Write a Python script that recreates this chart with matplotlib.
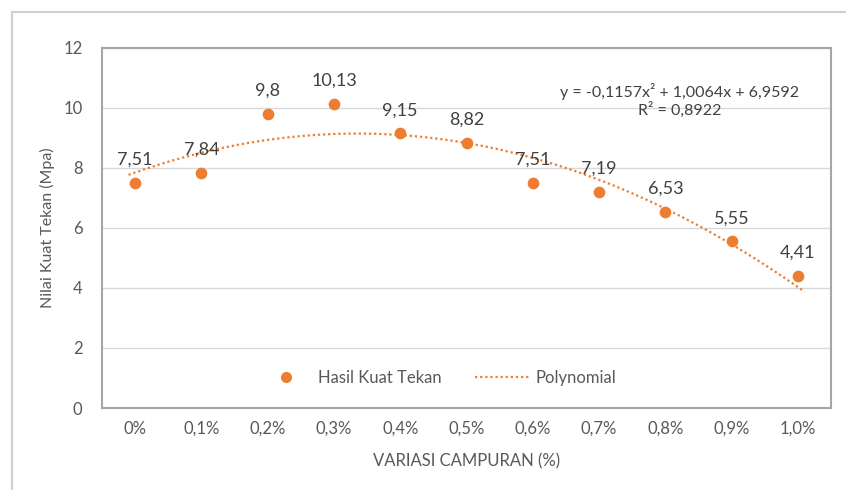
import numpy as np
import matplotlib.pyplot as plt
from matplotlib.lines import Line2D

variasi = ['0%', '0,1%', '0,2%', '0,3%', '0,4%', '0,5%', '0,6%', '0,7%', '0,8%', '0,9%', '1,0%']
kuat_tekan = [7.51, 7.84, 9.8, 10.13, 9.15, 8.82, 7.51, 7.19, 6.53, 5.55, 4.41]
label_nilai = ['7,51', '7,84', '9,8', '10,13', '9,15', '8,82', '7,51', '7,19', '6,53', '5,55', '4,41']
y_ticks = [0, 2, 4, 6, 8, 10, 12]

oranye = '#ED7D31'
abu = '#595959'
plt.rcParams['font.family'] = ['Lato', 'DejaVu Sans']

fig = plt.figure(figsize=(8.46, 4.9), dpi=100)
ax = fig.add_axes([102 / 846, 1 - 408 / 490, (831 - 102) / 846, (408 - 48) / 490])

x = np.arange(len(kuat_tekan))
ax.scatter(x, kuat_tekan, s=55, color=oranye, zorder=3)

# trendline polinom orde 2 (x excel mulai dari 1)
coef = np.polyfit(x + 1, kuat_tekan, 2)
xs = np.linspace(-0.1, 10.1, 200)
ys = np.polyval(coef, xs + 1)
ax.plot(xs, ys, color=oranye, lw=1.6, linestyle=(0, (1, 1.3)), zorder=2)

for xi, yi, lab in zip(x, kuat_tekan, label_nilai):
    ax.annotate(lab, (xi, yi), xytext=(0, 11), textcoords='offset points',
                ha='center', va='bottom', fontsize=13, color='#404040')

ss_res = np.sum((np.array(kuat_tekan) - np.polyval(coef, x + 1)) ** 2)
ss_tot = np.sum((np.array(kuat_tekan) - np.mean(kuat_tekan)) ** 2)
r2 = 1 - ss_res / ss_tot
fmt = lambda v: ('%.4f' % v).replace('.', ',')
eq = 'y = %sx² + %sx + %s' % (fmt(coef[0]), fmt(coef[1]), fmt(coef[2]))
ax.text(8.22, 10.55, eq, ha='center', va='center', fontsize=11.5, color='#404040')
ax.text(8.22, 9.95, 'R² = ' + fmt(r2), ha='center', va='center', fontsize=11.5, color='#404040')

ax.set_xlim(-0.5, 10.5)
ax.set_ylim(0, 12)
ax.set_yticks(y_ticks)
ax.set_xticks(x)
ax.set_xticklabels(variasi)
ax.tick_params(length=0, labelsize=12, colors=abu, pad=9)
ax.tick_params(axis='y', pad=14)
ax.grid(axis='y', color='#D9D9D9', lw=1)
ax.set_axisbelow(True)
for sp in ax.spines.values():
    sp.set_color('#A6A6A6')
    sp.set_linewidth(1.5)

ax.set_xlabel('VARIASI CAMPURAN (%)', fontsize=12, color=abu, labelpad=12)
ax.set_ylabel('Nilai Kuat Tekan (Mpa)', fontsize=11.5, color=abu, labelpad=6)

handles = [Line2D([], [], marker='o', ls='none', color=oranye, markersize=7),
           Line2D([], [], color=oranye, lw=1.6, linestyle=(0, (1, 1.3)))]
ax.legend(handles, ['Hasil Kuat Tekan', 'Polynomial'], loc='lower center',
          bbox_to_anchor=(0.46, 0.02), ncol=2, frameon=False, fontsize=12,
          labelcolor=abu, columnspacing=2.0, handlelength=3.3, handletextpad=0.3)

# garis tepi area chart
fig.add_artist(Line2D([12 / 846, 1], [1 - 12 / 490] * 2, color='#D0D0D0', lw=1.5))
fig.add_artist(Line2D([12 / 846] * 2, [0, 1 - 12 / 490], color='#D0D0D0', lw=1.5))

fig.savefig('out.png', dpi=100)
